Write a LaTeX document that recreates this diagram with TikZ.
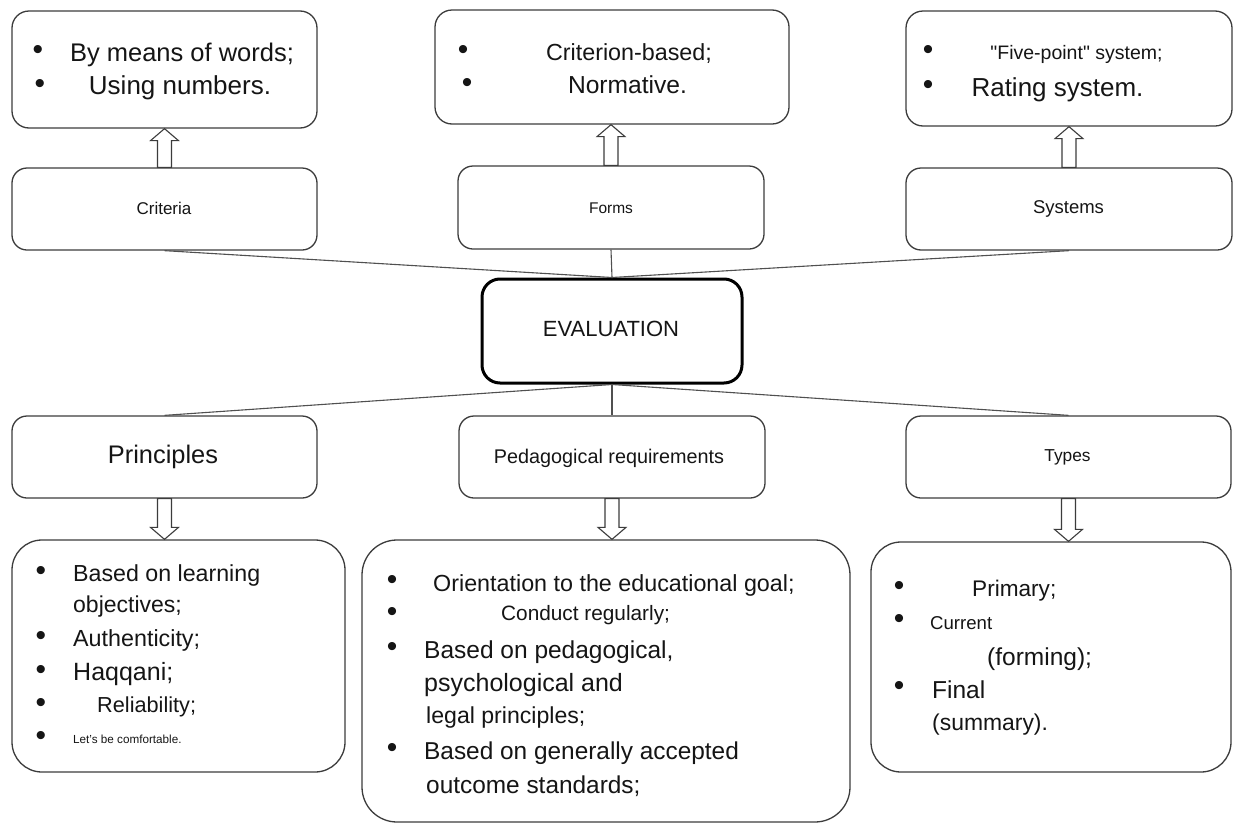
\documentclass[tikz,border=0pt]{standalone}
\usepackage{fontspec}
\setmainfont{Liberation Sans}
\usetikzlibrary{calc}
% plain font instance without TeX quote mapping, for straight quotes
\font\rawsans="Liberation Sans" at 19.5pt
\definecolor{ink}{HTML}{151515}
\definecolor{edge}{HTML}{3C3C3C}
\definecolor{wire}{HTML}{505050}
\tikzset{
  fs/.style={font=\fontsize{#1}{#1}\selectfont},
  card/.style={draw=edge, line width=1.3pt, rounded corners=#1, fill=white, inner sep=0pt},
  card/.default=15pt,
  txt/.style={text=ink, inner sep=0pt},
  lt/.style={txt, anchor=west},
  dot/.style={txt, fs=30, anchor=center},
  link/.style={draw=wire, line width=1.1pt},
  blockarr/.style={draw=edge, line width=1.1pt, fill=white, line join=miter},
}
% hollow block arrow from one node anchor to another (vertical)
\newcommand\blkarrow[2]{%
  \path[blockarr] let \p1=(#1), \p2=(#2), \n1={ifthenelse(\y2>\y1,1,-1)} in
    (\x1-7pt,\y1) -- (\x1-7pt,\y2-\n1*12pt) -- (\x1-14pt,\y2-\n1*12pt) -- (\x1,\y2)
    -- (\x1+14pt,\y2-\n1*12pt) -- (\x1+7pt,\y2-\n1*12pt) -- (\x1+7pt,\y1) -- cycle;}
\begin{document}
\begin{tikzpicture}[x=1pt,y=-1pt]
\useasboundingbox[fill=white] (0,0) rectangle (1240,825);

% ---- top row: outcome boxes ----
\node[card=17pt, minimum width=305pt, minimum height=117pt] (words) at (164.5,69.5) {};
\node[card=17pt, minimum width=354pt, minimum height=114pt] (norms) at (612,67) {};
\node[card=17pt, minimum width=326pt, minimum height=115pt] (scale) at (1069,68.5) {};

\node[dot] (w1) at (38,52) {•};
\node[dot] (w2) at (40,86) {•};
\node[txt, fs=25.5] (wt1) at (182,55) {By means of words;};
\node[txt, fs=26] (wt2) at (180,87.5) {Using numbers.};

\node[dot] (n1) at (463,52) {•};
\node[dot] (n2) at (467,85) {•};
\node[txt, fs=23.3] (nt1) at (629,54) {Criterion-based;};
\node[txt, fs=24.6] (nt2) at (627.5,84.5) {Normative.};

\node[dot] (s1) at (928,52) {•};
\node[dot] (s2) at (928,87) {•};
\node[txt] (st1) at (1076.5,54) {\rawsans "Five-point" system;};
\node[txt, fs=26] (st2) at (1057.5,89.5) {Rating system.};

% ---- second row ----
\node[card, minimum width=305pt, minimum height=82pt] (crit) at (164.5,209) {};
\node[txt, fs=17] (critt) at (164,208) {Criteria};
\node[card, minimum width=306pt, minimum height=83pt] (forms) at (611,207.5) {};
\node[txt, fs=15.5] (formst) at (611,208) {Forms};
\node[card, minimum width=326pt, minimum height=82pt] (syst) at (1069,209) {};
\node[txt, fs=18.5] (systt) at (1068.5,209) {Systems};

% ---- centre ----
\node[draw=black, line width=3pt, rounded corners=18pt, fill=white,
      minimum width=260pt, minimum height=104pt] (eval) at (612,331) {};
\node[txt, fs=22] (evalt) at (611,329) {EVALUATION};

% ---- third row ----
\node[card, minimum width=305pt, minimum height=82pt] (princ) at (164.5,457) {};
\node[txt, fs=25.4] (princt) at (163,457) {Principles};
\node[card, minimum width=306pt, minimum height=82pt] (ped) at (612,457) {};
\node[txt, fs=19.8] (pedt) at (609,458) {Pedagogical requirements};
\node[card, minimum width=325pt, minimum height=82pt] (types) at (1068.5,457) {};
\node[txt, fs=17.3] (typest) at (1067.5,457) {Types};

% ---- bottom row: lists ----
\node[card=30pt, minimum width=333pt, minimum height=232pt] (plist) at (178.5,656) {};
\node[dot] (p1) at (41,573) {•};
\node[dot] (p2) at (41,638) {•};
\node[dot] (p3) at (41,672) {•};
\node[dot] (p4) at (41,705) {•};
\node[dot] (p5) at (41,738) {•};
\node[lt, fs=23.2] (pt1) at (73,575) {Based on learning};
\node[lt, fs=23] (pt2) at (73,607) {objectives;};
\node[lt, fs=23.3] (pt3) at (73,640) {Authenticity;};
\node[lt, fs=25] (pt4) at (73,674) {Haqqani;};
\node[lt, fs=21.7] (pt5) at (97,707) {Reliability;};
\node[lt, fs=11.7] (pt6) at (73,739) {Let's be comfortable.};

\node[card=35pt, minimum width=488pt, minimum height=282pt] (rlist) at (606,681) {};
\node[dot] (r1) at (392,582) {•};
\node[dot] (r2) at (392,614) {•};
\node[dot] (r3) at (392,649) {•};
\node[dot] (r4) at (392,750) {•};
\node[lt, fs=23.3] (rt1) at (433,585) {Orientation to the educational goal;};
\node[lt, fs=20.8] (rt2) at (501,615) {Conduct regularly;};
\node[lt, fs=24.5] (rt3) at (424,652) {Based on pedagogical,};
\node[lt, fs=25] (rt4) at (424,685) {psychological and};
\node[lt, fs=23.1] (rt5) at (426,718) {legal principles;};
\node[lt, fs=24.4] (rt6) at (424,753) {Based on generally accepted};
\node[lt, fs=24.4] (rt7) at (426,786) {outcome standards;};

\node[card=30pt, minimum width=360pt, minimum height=230pt] (tlist) at (1051,657) {};
\node[dot] (t1) at (899,588) {•};
\node[dot] (t2) at (899,621) {•};
\node[dot] (t3) at (899,688) {•};
\node[lt, fs=22.6] (tt1) at (972,591) {Primary;};
\node[lt, fs=18.6] (tt2) at (930,623) {Current};
\node[lt, fs=24.5] (tt3) at (987,659) {(forming);};
\node[lt, fs=24.5] (tt4) at (932,690) {Final};
\node[lt, fs=22.9] (tt5) at (932,725) {(summary).};

% ---- connectors to the centre ----
\draw[link] (crit.south) -- (eval.north);
\draw[link] (forms.south) -- (eval.north);
\draw[link] (syst.south) -- (eval.north);
\draw[link] (eval.south) -- (princ.north);
\draw[link] (eval.south) -- (ped.north);
\draw[link] (eval.south) -- (types.north);

% ---- block arrows ----
\blkarrow{crit.north}{words.south}
\blkarrow{forms.north}{norms.south}
\blkarrow{syst.north}{scale.south}
\blkarrow{princ.south}{plist.north}
\blkarrow{ped.south}{rlist.north}
\blkarrow{types.south}{tlist.north}
\end{tikzpicture}
\end{document}
